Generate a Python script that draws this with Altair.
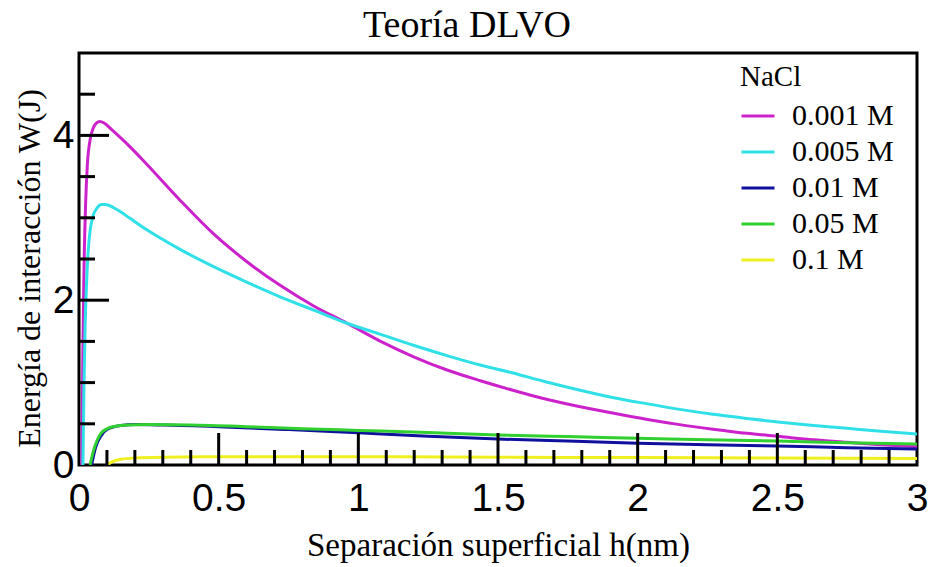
import altair as alt
import pandas as pd

series = ["0.001 M", "0.005 M", "0.01 M", "0.05 M", "0.1 M"]
colors = ["#cc22cc", "#30e0e8", "#10109e", "#30d030", "#f0f020"]

h_0001 = [0.010, 0.014, 0.018, 0.024, 0.030, 0.040, 0.050, 0.062, 0.075, 0.090, 0.120, 0.180, 0.240, 0.360, 0.480,
          0.600, 0.720, 0.840, 0.960, 1.080, 1.200, 1.320, 1.440, 1.550, 1.670, 1.790, 1.910, 2.030, 2.150, 2.270,
          2.390, 2.510, 2.630, 2.750, 2.870, 3.000]
w_0001 = [0.00, 1.40, 2.40, 3.20, 3.65, 3.95, 4.08, 4.15, 4.17, 4.15, 4.06, 3.87, 3.66, 3.22, 2.81,
          2.47, 2.18, 1.93, 1.72, 1.50, 1.31, 1.15, 1.02, 0.91, 0.80, 0.71, 0.63, 0.555, 0.49, 0.435,
          0.385, 0.345, 0.305, 0.275, 0.245, 0.22]

h_0005 = [0.014, 0.018, 0.022, 0.027, 0.033, 0.040, 0.050, 0.065, 0.080, 0.095, 0.120, 0.150, 0.180, 0.240, 0.360,
          0.480, 0.600, 0.720, 0.840, 0.960, 1.080, 1.200, 1.320, 1.440, 1.550, 1.670, 1.790, 1.910, 2.030, 2.150,
          2.270, 2.390, 2.510, 2.630, 2.750, 2.870, 3.000]
w_0005 = [0.00, 1.00, 1.70, 2.20, 2.60, 2.85, 3.02, 3.12, 3.16, 3.16, 3.13, 3.07, 3.00, 2.86, 2.62,
          2.41, 2.22, 2.04, 1.88, 1.72, 1.585, 1.45, 1.325, 1.21, 1.12, 1.01, 0.91, 0.82, 0.745, 0.675,
          0.615, 0.565, 0.52, 0.48, 0.445, 0.41, 0.375]

h_001 = [0.045, 0.060, 0.080, 0.100, 0.150, 0.200, 0.300, 0.500, 0.750, 1.000, 1.250, 1.500, 1.750, 2.000,
         2.250, 2.500, 2.750, 3.000]
w_001 = [0.00, 0.22, 0.36, 0.43, 0.48, 0.49, 0.485, 0.465, 0.43, 0.39, 0.35, 0.315, 0.29, 0.265,
         0.245, 0.23, 0.21, 0.195]

h_005 = [0.040, 0.050, 0.065, 0.080, 0.100, 0.130, 0.170, 0.250, 0.400, 0.600, 0.800, 1.000, 1.250, 1.500,
         1.750, 2.000, 2.250, 2.500, 2.750, 3.000]
w_005 = [0.00, 0.15, 0.30, 0.39, 0.44, 0.47, 0.485, 0.49, 0.485, 0.465, 0.44, 0.42, 0.395, 0.365,
         0.345, 0.325, 0.305, 0.29, 0.27, 0.255]

h_01 = [0.100, 0.120, 0.150, 0.200, 0.300, 0.500, 1.000, 1.500, 2.000, 2.500, 3.000]
w_01 = [0.00, 0.04, 0.07, 0.085, 0.095, 0.10, 0.10, 0.095, 0.09, 0.085, 0.08]

x_labels = [0, 0.5, 1, 1.5, 2, 2.5, 3]
y_labels = [0, 2, 4]
x_major = [0.5, 1.0, 1.5, 2.0, 2.5]
x_minor = [0.1, 0.2, 0.3, 0.4, 0.6, 0.7, 0.8, 0.9, 1.1, 1.2, 1.3, 1.4, 1.6, 1.7, 1.8, 1.9,
           2.1, 2.2, 2.3, 2.4, 2.6, 2.7, 2.8, 2.9]
y_major = [2, 4]
y_minor = [0.5, 1.0, 1.5, 2.5, 3.0, 3.5, 4.5]

rows = []
for name, hs, ws in zip(series, [h_0001, h_0005, h_001, h_005, h_01], [w_0001, w_0005, w_001, w_005, w_01]):
    for h, w in zip(hs, ws):
        rows.append({"h": h, "W": w, "NaCl": name})
df = pd.DataFrame(rows)

W, H = 838, 412
serif = "Liberation Serif"
sans = "Liberation Sans"

xscale = alt.Scale(domain=[0, 3], nice=False, zero=False)
yscale = alt.Scale(domain=[0, 5], nice=False)

x_enc = alt.X("h:Q", scale=xscale, axis=alt.Axis(
    values=x_labels, format="~g", title="Separación superficial h(nm)", tickSize=0, domain=False, grid=False,
    labelFont=sans, labelFontSize=39, labelPadding=14, labelColor="black", labelFlush=False,
    titleFont=serif, titleFontSize=33, titleFontWeight="normal", titleColor="black",
    titleY=80, titleBaseline="middle"))
y_enc = alt.Y("W:Q", scale=yscale, axis=alt.Axis(
    values=y_labels, format="~g", title="Energía de interacción W(J)", tickSize=0, domain=False, grid=False,
    labelFont=sans, labelFontSize=39, labelPadding=5, labelColor="black", labelFlush=False,
    titleFont=serif, titleFontSize=32, titleFontWeight="normal", titleColor="black",
    titleAngle=-90, titleX=-50, titleY=215, titleAlign="center", titleBaseline="middle"))

lines = alt.Chart(df).mark_line(strokeWidth=3, interpolate="monotone", clip=True).encode(
    x=x_enc, y=y_enc,
    color=alt.Color("NaCl:N", sort=series, scale=alt.Scale(domain=series, range=colors), legend=alt.Legend(
        title="NaCl", orient="none", legendX=661, legendY=10,
        titleFont=serif, titleFontSize=29, titleFontWeight="normal", titleColor="black", titlePadding=6,
        labelFont=serif, labelFontSize=30, labelColor="black", labelOffset=16,
        symbolType="stroke", symbolSize=1089, symbolStrokeWidth=3, rowPadding=3, padding=0)),
)

xmaj = alt.Chart(pd.DataFrame({"h": x_major})).mark_rule(color="black", strokeWidth=3).encode(
    x="h:Q", y=alt.value(H), y2=alt.value(H - 32))
xmin = alt.Chart(pd.DataFrame({"h": x_minor})).mark_rule(color="black", strokeWidth=3).encode(
    x="h:Q", y=alt.value(H), y2=alt.value(H - 15))
ymaj = alt.Chart(pd.DataFrame({"W": y_major})).mark_rule(color="black", strokeWidth=3).encode(
    y="W:Q", x=alt.value(0), x2=alt.value(30))
ymin = alt.Chart(pd.DataFrame({"W": y_minor})).mark_rule(color="black", strokeWidth=3).encode(
    y="W:Q", x=alt.value(0), x2=alt.value(16))

chart = alt.layer(lines, xmaj, xmin, ymaj, ymin).properties(
    width=W, height=H,
    title=alt.TitleParams("Teoría DLVO", font=serif, fontSize=38, fontWeight="normal", color="black",
                          anchor="middle", offset=8, dx=-31),
    autosize=alt.AutoSizeParams(type="none"),
    padding={"left": 79, "top": 53, "right": 17, "bottom": 102},
    background="white",
).configure_view(stroke="black", strokeWidth=3)

chart.save("out.html", embed_options={"renderer": "svg", "actions": False})
